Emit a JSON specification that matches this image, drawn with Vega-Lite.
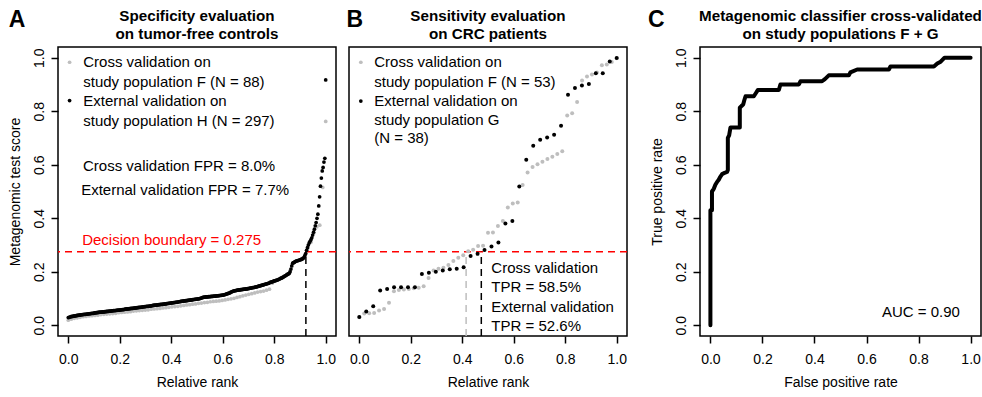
{
"$schema": "https://vega.github.io/schema/vega-lite/v6.json",
"background": "white",
"padding": {"left": 7, "top": 8, "right": 0, "bottom": 0},
"config": {
 "view": {"stroke": "black", "strokeWidth": 1.5},
 "font": "Liberation Sans",
 "axis": {"domain": false, "grid": false, "ticks": true, "tickColor": "black", "tickWidth": 1.5, "tickSize": 7,
  "labelFont": "Liberation Sans", "labelFontSize": 14, "labelColor": "black", "labelFlush": false, "labelOverlap": false,
  "titleFont": "Liberation Sans", "titleFontSize": 14, "titleFontWeight": "normal", "titleColor": "black"},
 "axisX": {"labelPadding": 9, "titlePadding": 9},
 "axisY": {"labelAngle": -90, "labelAlign": "center", "labelBaseline": "bottom", "labelPadding": 5, "titlePadding": 10},
 "text": {"font": "Liberation Sans", "fontSize": 15, "color": "black"}
},
"datasets": {
 "aF": [{"x":0,"y":0.019},{"x":0.0115,"y":0.023},{"x":0.023,"y":0.026},{"x":0.0345,"y":0.028},{"x":0.046,"y":0.03},{"x":0.0575,"y":0.032},{"x":0.069,"y":0.033},{"x":0.0805,"y":0.035},{"x":0.092,"y":0.036},{"x":0.1034,"y":0.037},{"x":0.1149,"y":0.038},{"x":0.1264,"y":0.04},{"x":0.1379,"y":0.041},{"x":0.1494,"y":0.042},{"x":0.1609,"y":0.043},{"x":0.1724,"y":0.044},{"x":0.1839,"y":0.045},{"x":0.1954,"y":0.047},{"x":0.2069,"y":0.048},{"x":0.2184,"y":0.049},{"x":0.2299,"y":0.05},{"x":0.2414,"y":0.051},{"x":0.2529,"y":0.053},{"x":0.2644,"y":0.054},{"x":0.2759,"y":0.055},{"x":0.2874,"y":0.056},{"x":0.2989,"y":0.057},{"x":0.3103,"y":0.058},{"x":0.3218,"y":0.06},{"x":0.3333,"y":0.061},{"x":0.3448,"y":0.062},{"x":0.3563,"y":0.063},{"x":0.3678,"y":0.065},{"x":0.3793,"y":0.066},{"x":0.3908,"y":0.067},{"x":0.4023,"y":0.069},{"x":0.4138,"y":0.07},{"x":0.4253,"y":0.071},{"x":0.4368,"y":0.073},{"x":0.4483,"y":0.074},{"x":0.4598,"y":0.076},{"x":0.4713,"y":0.077},{"x":0.4828,"y":0.079},{"x":0.4943,"y":0.08},{"x":0.5057,"y":0.082},{"x":0.5172,"y":0.083},{"x":0.5287,"y":0.085},{"x":0.5402,"y":0.086},{"x":0.5517,"y":0.088},{"x":0.5632,"y":0.089},{"x":0.5747,"y":0.09},{"x":0.5862,"y":0.091},{"x":0.5977,"y":0.093},{"x":0.6092,"y":0.095},{"x":0.6207,"y":0.097},{"x":0.6322,"y":0.099},{"x":0.6437,"y":0.101},{"x":0.6552,"y":0.104},{"x":0.6667,"y":0.107},{"x":0.6782,"y":0.11},{"x":0.6897,"y":0.113},{"x":0.7011,"y":0.116},{"x":0.7126,"y":0.118},{"x":0.7241,"y":0.121},{"x":0.7356,"y":0.124},{"x":0.7471,"y":0.126},{"x":0.7586,"y":0.128},{"x":0.7701,"y":0.131},{"x":0.7816,"y":0.135},{"x":0.7931,"y":0.158},{"x":0.8046,"y":0.165},{"x":0.8161,"y":0.172},{"x":0.8276,"y":0.178},{"x":0.8391,"y":0.185},{"x":0.8506,"y":0.192},{"x":0.8621,"y":0.205},{"x":0.8736,"y":0.232},{"x":0.8851,"y":0.24},{"x":0.8966,"y":0.244},{"x":0.908,"y":0.25},{"x":0.9195,"y":0.262},{"x":0.931,"y":0.29},{"x":0.9425,"y":0.31},{"x":0.954,"y":0.345},{"x":0.9655,"y":0.368},{"x":0.977,"y":0.374},{"x":0.9885,"y":0.515},{"x":1,"y":0.762}],
 "aH": [{"x":0,"y":0.029},{"x":0.0034,"y":0.03},{"x":0.0068,"y":0.031},{"x":0.0101,"y":0.032},{"x":0.0135,"y":0.033},{"x":0.0169,"y":0.033},{"x":0.0203,"y":0.034},{"x":0.0236,"y":0.035},{"x":0.027,"y":0.035},{"x":0.0304,"y":0.036},{"x":0.0338,"y":0.037},{"x":0.0372,"y":0.037},{"x":0.0405,"y":0.038},{"x":0.0439,"y":0.038},{"x":0.0473,"y":0.039},{"x":0.0507,"y":0.039},{"x":0.0541,"y":0.04},{"x":0.0574,"y":0.04},{"x":0.0608,"y":0.041},{"x":0.0642,"y":0.041},{"x":0.0676,"y":0.041},{"x":0.0709,"y":0.042},{"x":0.0743,"y":0.042},{"x":0.0777,"y":0.043},{"x":0.0811,"y":0.043},{"x":0.0845,"y":0.044},{"x":0.0878,"y":0.044},{"x":0.0912,"y":0.045},{"x":0.0946,"y":0.045},{"x":0.098,"y":0.045},{"x":0.1014,"y":0.046},{"x":0.1047,"y":0.046},{"x":0.1081,"y":0.047},{"x":0.1115,"y":0.047},{"x":0.1149,"y":0.048},{"x":0.1182,"y":0.048},{"x":0.1216,"y":0.049},
 {"x":0.125,"y":0.049},{"x":0.1284,"y":0.049},{"x":0.1318,"y":0.05},{"x":0.1351,"y":0.05},{"x":0.1385,"y":0.05},{"x":0.1419,"y":0.051},{"x":0.1453,"y":0.051},{"x":0.1486,"y":0.052},{"x":0.152,"y":0.052},{"x":0.1554,"y":0.052},{"x":0.1588,"y":0.053},{"x":0.1622,"y":0.053},{"x":0.1655,"y":0.053},{"x":0.1689,"y":0.054},{"x":0.1723,"y":0.054},{"x":0.1757,"y":0.055},{"x":0.1791,"y":0.055},{"x":0.1824,"y":0.055},{"x":0.1858,"y":0.056},{"x":0.1892,"y":0.056},{"x":0.1926,"y":0.057},{"x":0.1959,"y":0.057},{"x":0.1993,"y":0.057},{"x":0.2027,"y":0.058},{"x":0.2061,"y":0.058},{"x":0.2095,"y":0.059},{"x":0.2128,"y":0.059},{"x":0.2162,"y":0.059},{"x":0.2196,"y":0.06},{"x":0.223,"y":0.06},{"x":0.2264,"y":0.061},{"x":0.2297,"y":0.061},{"x":0.2331,"y":0.061},{"x":0.2365,"y":0.062},{"x":0.2399,"y":0.062},{"x":0.2432,"y":0.063},{"x":0.2466,"y":0.063},
 {"x":0.25,"y":0.063},{"x":0.2534,"y":0.064},{"x":0.2568,"y":0.064},{"x":0.2601,"y":0.065},{"x":0.2635,"y":0.065},{"x":0.2669,"y":0.066},{"x":0.2703,"y":0.066},{"x":0.2736,"y":0.067},{"x":0.277,"y":0.067},{"x":0.2804,"y":0.067},{"x":0.2838,"y":0.068},{"x":0.2872,"y":0.068},{"x":0.2905,"y":0.069},{"x":0.2939,"y":0.069},{"x":0.2973,"y":0.07},{"x":0.3007,"y":0.07},{"x":0.3041,"y":0.071},{"x":0.3074,"y":0.071},{"x":0.3108,"y":0.071},{"x":0.3142,"y":0.072},{"x":0.3176,"y":0.072},{"x":0.3209,"y":0.073},{"x":0.3243,"y":0.073},{"x":0.3277,"y":0.074},{"x":0.3311,"y":0.074},{"x":0.3345,"y":0.075},{"x":0.3378,"y":0.075},{"x":0.3412,"y":0.075},{"x":0.3446,"y":0.076},{"x":0.348,"y":0.076},{"x":0.3514,"y":0.077},{"x":0.3547,"y":0.077},{"x":0.3581,"y":0.078},{"x":0.3615,"y":0.078},{"x":0.3649,"y":0.078},{"x":0.3682,"y":0.079},{"x":0.3716,"y":0.079},
 {"x":0.375,"y":0.08},{"x":0.3784,"y":0.08},{"x":0.3818,"y":0.081},{"x":0.3851,"y":0.081},{"x":0.3885,"y":0.082},{"x":0.3919,"y":0.082},{"x":0.3953,"y":0.083},{"x":0.3986,"y":0.083},{"x":0.402,"y":0.084},{"x":0.4054,"y":0.084},{"x":0.4088,"y":0.085},{"x":0.4122,"y":0.085},{"x":0.4155,"y":0.086},{"x":0.4189,"y":0.086},{"x":0.4223,"y":0.087},{"x":0.4257,"y":0.087},{"x":0.4291,"y":0.088},{"x":0.4324,"y":0.088},{"x":0.4358,"y":0.089},{"x":0.4392,"y":0.089},{"x":0.4426,"y":0.09},{"x":0.4459,"y":0.09},{"x":0.4493,"y":0.091},{"x":0.4527,"y":0.091},{"x":0.4561,"y":0.092},{"x":0.4595,"y":0.092},{"x":0.4628,"y":0.093},{"x":0.4662,"y":0.093},{"x":0.4696,"y":0.094},{"x":0.473,"y":0.094},{"x":0.4764,"y":0.095},{"x":0.4797,"y":0.095},{"x":0.4831,"y":0.096},{"x":0.4865,"y":0.096},{"x":0.4899,"y":0.097},{"x":0.4932,"y":0.097},{"x":0.4966,"y":0.098},
 {"x":0.5,"y":0.098},{"x":0.5034,"y":0.099},{"x":0.5068,"y":0.099},{"x":0.5101,"y":0.1},{"x":0.5135,"y":0.101},{"x":0.5169,"y":0.102},{"x":0.5203,"y":0.103},{"x":0.5236,"y":0.104},{"x":0.527,"y":0.105},{"x":0.5304,"y":0.105},{"x":0.5338,"y":0.106},{"x":0.5372,"y":0.106},{"x":0.5405,"y":0.106},{"x":0.5439,"y":0.107},{"x":0.5473,"y":0.107},{"x":0.5507,"y":0.107},{"x":0.5541,"y":0.108},{"x":0.5574,"y":0.108},{"x":0.5608,"y":0.108},{"x":0.5642,"y":0.109},{"x":0.5676,"y":0.109},{"x":0.5709,"y":0.109},{"x":0.5743,"y":0.11},{"x":0.5777,"y":0.11},{"x":0.5811,"y":0.11},{"x":0.5845,"y":0.111},{"x":0.5878,"y":0.111},{"x":0.5912,"y":0.112},{"x":0.5946,"y":0.112},{"x":0.598,"y":0.113},{"x":0.6014,"y":0.113},{"x":0.6047,"y":0.114},{"x":0.6081,"y":0.115},{"x":0.6115,"y":0.116},{"x":0.6149,"y":0.117},{"x":0.6182,"y":0.118},{"x":0.6216,"y":0.119},
 {"x":0.625,"y":0.12},{"x":0.6284,"y":0.122},{"x":0.6318,"y":0.124},{"x":0.6351,"y":0.125},{"x":0.6385,"y":0.127},{"x":0.6419,"y":0.128},{"x":0.6453,"y":0.129},{"x":0.6486,"y":0.13},{"x":0.652,"y":0.13},{"x":0.6554,"y":0.131},{"x":0.6588,"y":0.131},{"x":0.6622,"y":0.132},{"x":0.6655,"y":0.132},{"x":0.6689,"y":0.133},{"x":0.6723,"y":0.133},{"x":0.6757,"y":0.134},{"x":0.6791,"y":0.134},{"x":0.6824,"y":0.135},{"x":0.6858,"y":0.135},{"x":0.6892,"y":0.136},{"x":0.6926,"y":0.136},{"x":0.6959,"y":0.137},{"x":0.6993,"y":0.137},{"x":0.7027,"y":0.138},{"x":0.7061,"y":0.139},{"x":0.7095,"y":0.139},{"x":0.7128,"y":0.14},{"x":0.7162,"y":0.141},{"x":0.7196,"y":0.141},{"x":0.723,"y":0.142},{"x":0.7264,"y":0.143},{"x":0.7297,"y":0.144},{"x":0.7331,"y":0.144},{"x":0.7365,"y":0.145},{"x":0.7399,"y":0.146},{"x":0.7432,"y":0.147},{"x":0.7466,"y":0.148},
 {"x":0.75,"y":0.149},{"x":0.7534,"y":0.15},{"x":0.7568,"y":0.151},{"x":0.7601,"y":0.152},{"x":0.7635,"y":0.153},{"x":0.7669,"y":0.154},{"x":0.7703,"y":0.155},{"x":0.7736,"y":0.156},{"x":0.777,"y":0.157},{"x":0.7804,"y":0.158},{"x":0.7838,"y":0.16},{"x":0.7872,"y":0.161},{"x":0.7905,"y":0.162},{"x":0.7939,"y":0.163},{"x":0.7973,"y":0.165},{"x":0.8007,"y":0.166},{"x":0.8041,"y":0.167},{"x":0.8074,"y":0.168},{"x":0.8108,"y":0.169},{"x":0.8142,"y":0.17},{"x":0.8176,"y":0.172},{"x":0.8209,"y":0.173},{"x":0.8243,"y":0.175},{"x":0.8277,"y":0.176},{"x":0.8311,"y":0.178},{"x":0.8345,"y":0.18},{"x":0.8378,"y":0.182},{"x":0.8412,"y":0.184},{"x":0.8446,"y":0.186},{"x":0.848,"y":0.188},{"x":0.8514,"y":0.19},{"x":0.8547,"y":0.192},{"x":0.8581,"y":0.194},{"x":0.8615,"y":0.2},{"x":0.8649,"y":0.21},{"x":0.8682,"y":0.222},{"x":0.8716,"y":0.232},
 {"x":0.875,"y":0.234},{"x":0.8784,"y":0.236},{"x":0.8818,"y":0.238},{"x":0.8851,"y":0.24},{"x":0.8885,"y":0.241},{"x":0.8919,"y":0.242},{"x":0.8953,"y":0.243},{"x":0.8986,"y":0.244},{"x":0.902,"y":0.245},{"x":0.9054,"y":0.246},{"x":0.9088,"y":0.248},{"x":0.9122,"y":0.25},{"x":0.9155,"y":0.254},{"x":0.9189,"y":0.26},{"x":0.9223,"y":0.268},{"x":0.9257,"y":0.28},{"x":0.9291,"y":0.29},{"x":0.9324,"y":0.3},{"x":0.9358,"y":0.308},{"x":0.9392,"y":0.314},{"x":0.9426,"y":0.32},{"x":0.9459,"y":0.327},{"x":0.9493,"y":0.337},{"x":0.9527,"y":0.348},{"x":0.9561,"y":0.359},{"x":0.9595,"y":0.372},{"x":0.9628,"y":0.384},{"x":0.9662,"y":0.4},{"x":0.9696,"y":0.415},{"x":0.973,"y":0.446},{"x":0.9764,"y":0.48},{"x":0.9797,"y":0.52},{"x":0.9831,"y":0.55},{"x":0.9865,"y":0.577},{"x":0.9899,"y":0.59},{"x":0.9932,"y":0.61},{"x":0.9966,"y":0.624},{"x":1,"y":0.917}],
 "bF": [{"x":0,"y":0.03},{"x":0.0192,"y":0.044},{"x":0.0385,"y":0.045},{"x":0.0577,"y":0.046},{"x":0.0769,"y":0.055},{"x":0.0962,"y":0.061},{"x":0.1154,"y":0.084},{"x":0.1346,"y":0.127},{"x":0.1538,"y":0.132},{"x":0.1731,"y":0.134},{"x":0.1923,"y":0.136},{"x":0.2115,"y":0.138},{"x":0.2308,"y":0.14},{"x":0.25,"y":0.146},{"x":0.2692,"y":0.177},{"x":0.2885,"y":0.205},{"x":0.3077,"y":0.211},{"x":0.3269,"y":0.215},{"x":0.3462,"y":0.225},{"x":0.3654,"y":0.24},{"x":0.3846,"y":0.252},{"x":0.4038,"y":0.262},{"x":0.4231,"y":0.277},{"x":0.4423,"y":0.282},{"x":0.4615,"y":0.296},{"x":0.4808,"y":0.297},{"x":0.5,"y":0.346},{"x":0.5192,"y":0.347},{"x":0.5385,"y":0.371},{"x":0.5577,"y":0.39},{"x":0.5769,"y":0.44},{"x":0.5962,"y":0.455},{"x":0.6154,"y":0.459},{"x":0.6346,"y":0.524},{"x":0.6538,"y":0.571},{"x":0.6731,"y":0.592},{"x":0.6923,"y":0.602},{"x":0.7115,"y":0.611},{"x":0.7308,"y":0.621},{"x":0.75,"y":0.63},{"x":0.7692,"y":0.64},{"x":0.7885,"y":0.65},{"x":0.8077,"y":0.784},{"x":0.8269,"y":0.792},{"x":0.8462,"y":0.834},{"x":0.8654,"y":0.915},{"x":0.8846,"y":0.93},{"x":0.9038,"y":0.937},{"x":0.9231,"y":0.945},{"x":0.9423,"y":0.972},{"x":0.9615,"y":0.975},{"x":0.9808,"y":0.984},{"x":1,"y":0.998}],
 "bG": [{"x":0,"y":0.031},{"x":0.027,"y":0.052},{"x":0.0541,"y":0.071},{"x":0.0811,"y":0.13},{"x":0.1081,"y":0.136},{"x":0.1351,"y":0.142},{"x":0.1622,"y":0.142},{"x":0.1892,"y":0.142},{"x":0.2162,"y":0.142},{"x":0.2432,"y":0.192},{"x":0.2703,"y":0.196},{"x":0.2973,"y":0.2},{"x":0.3243,"y":0.205},{"x":0.3514,"y":0.209},{"x":0.3784,"y":0.211},{"x":0.4054,"y":0.217},{"x":0.4324,"y":0.259},{"x":0.4595,"y":0.267},{"x":0.4865,"y":0.281},{"x":0.5135,"y":0.294},{"x":0.5405,"y":0.309},{"x":0.5676,"y":0.38},{"x":0.5946,"y":0.39},{"x":0.6216,"y":0.519},{"x":0.6486,"y":0.619},{"x":0.6757,"y":0.671},{"x":0.7027,"y":0.693},{"x":0.7297,"y":0.702},{"x":0.7568,"y":0.712},{"x":0.7838,"y":0.746},{"x":0.8108,"y":0.862},{"x":0.8378,"y":0.887},{"x":0.8649,"y":0.896},{"x":0.8919,"y":0.902},{"x":0.9189,"y":0.942},{"x":0.9459,"y":0.942},{"x":0.973,"y":0.986},{"x":1,"y":0.999}],
 "roc": [{"k":0,"x":0,"y":0},{"k":1,"x":0,"y":0.43},{"k":2,"x":0.006,"y":0.43},{"k":3,"x":0.006,"y":0.5},{"k":4,"x":0.013,"y":0.51},{"k":5,"x":0.019,"y":0.525},{"k":6,"x":0.025,"y":0.535},{"k":7,"x":0.032,"y":0.544},{"k":8,"x":0.038,"y":0.555},{"k":9,"x":0.045,"y":0.565},{"k":10,"x":0.055,"y":0.57},{"k":11,"x":0.064,"y":0.573},{"k":12,"x":0.067,"y":0.58},{"k":13,"x":0.067,"y":0.7},{"k":14,"x":0.072,"y":0.71},{"k":15,"x":0.077,"y":0.739},{"k":16,"x":0.113,"y":0.739},{"k":17,"x":0.113,"y":0.813},{"k":18,"x":0.12,"y":0.82},{"k":19,"x":0.126,"y":0.825},{"k":20,"x":0.13,"y":0.84},{"k":21,"x":0.135,"y":0.856},{"k":22,"x":0.167,"y":0.856},{"k":23,"x":0.175,"y":0.868},{"k":24,"x":0.182,"y":0.879},{"k":25,"x":0.263,"y":0.879},{"k":26,"x":0.269,"y":0.9},{"k":27,"x":0.34,"y":0.9},{"k":28,"x":0.346,"y":0.912},{"k":29,"x":0.429,"y":0.912},{"k":30,"x":0.44,"y":0.92},{"k":31,"x":0.455,"y":0.934},{"k":32,"x":0.532,"y":0.934},{"k":33,"x":0.538,"y":0.945},{"k":34,"x":0.564,"y":0.956},{"k":35,"x":0.686,"y":0.956},{"k":36,"x":0.692,"y":0.967},{"k":37,"x":0.859,"y":0.967},{"k":38,"x":0.872,"y":0.978},{"k":39,"x":0.885,"y":0.985},{"k":40,"x":0.9,"y":1},{"k":41,"x":1,"y":1}]
},
"spacing": 18,
"hconcat": [
 {"spacing": 7, "hconcat": [
  {"width": 278, "height": 289,
   "layer": [
    {"data": {"values": [{"y": 0.275}]}, "mark": {"type": "rule", "color": "#ff0000", "strokeWidth": 1.5, "strokeDash": [7, 5]},
     "encoding": {"y": {"field": "y", "type": "quantitative", "scale": {"domain": [-0.04, 1.04], "nice": false, "zero": false}, "axis": {"title": "Metagenomic test score", "values": [0, 0.2, 0.4, 0.6, 0.8, 1], "format": ".1f"}}}},
    {"data": {"values": [{"x": 0.923, "y": -0.04, "y2": 0.275}]}, "mark": {"type": "rule", "color": "black", "strokeWidth": 1.5, "strokeDash": [7, 5]},
     "encoding": {"x": {"field": "x", "type": "quantitative", "scale": {"domain": [-0.04, 1.04], "nice": false, "zero": false}, "axis": {"title": "Relative rank", "values": [0, 0.2, 0.4, 0.6, 0.8, 1], "format": ".1f"}},
      "y": {"field": "y", "type": "quantitative", "scale": {"domain": [-0.04, 1.04], "nice": false, "zero": false}, "axis": {"title": "Metagenomic test score", "values": [0, 0.2, 0.4, 0.6, 0.8, 1], "format": ".1f"}}, "y2": {"field": "y2"}}},
    {"data": {"name": "aF"}, "mark": {"type": "circle", "size": 14, "color": "#bebebe", "opacity": 1},
     "encoding": {"x": {"field": "x", "type": "quantitative", "scale": {"domain": [-0.04, 1.04], "nice": false, "zero": false}, "axis": {"title": "Relative rank", "values": [0, 0.2, 0.4, 0.6, 0.8, 1], "format": ".1f"}},
      "y": {"field": "y", "type": "quantitative", "scale": {"domain": [-0.04, 1.04], "nice": false, "zero": false}, "axis": {"title": "Metagenomic test score", "values": [0, 0.2, 0.4, 0.6, 0.8, 1], "format": ".1f"}}}},
    {"data": {"name": "aH"}, "mark": {"type": "circle", "size": 14, "color": "black", "opacity": 1},
     "encoding": {"x": {"field": "x", "type": "quantitative", "scale": {"domain": [-0.04, 1.04], "nice": false, "zero": false}, "axis": {"title": "Relative rank", "values": [0, 0.2, 0.4, 0.6, 0.8, 1], "format": ".1f"}},
      "y": {"field": "y", "type": "quantitative", "scale": {"domain": [-0.04, 1.04], "nice": false, "zero": false}, "axis": {"title": "Metagenomic test score", "values": [0, 0.2, 0.4, 0.6, 0.8, 1], "format": ".1f"}}}},
    {"data": {"values": [{"x": 0.005, "y": 0.983}]}, "mark": {"type": "circle", "size": 14, "color": "#bebebe", "opacity": 1},
     "encoding": {"x": {"field": "x", "type": "quantitative"}, "y": {"field": "y", "type": "quantitative"}}},
    {"data": {"values": [{"x": 0.005, "y": 0.84}]}, "mark": {"type": "circle", "size": 14, "color": "black", "opacity": 1},
     "encoding": {"x": {"field": "x", "type": "quantitative"}, "y": {"field": "y", "type": "quantitative"}}},
    {"data": {"values": [{"x": 0.058, "y": 0.983, "t": "Cross validation on"}, {"x": 0.058, "y": 0.908, "t": "study population F (N = 88)"}, {"x": 0.058, "y": 0.84, "t": "External validation on"}, {"x": 0.058, "y": 0.765, "t": "study population H (N = 297)"}, {"x": 0.057, "y": 0.594, "t": "Cross validation FPR = 8.0%"}, {"x": 0.05, "y": 0.506, "t": "External validation FPR = 7.7%"}]},
     "mark": {"type": "text", "align": "left", "baseline": "middle", "fontSize": 15},
     "encoding": {"x": {"field": "x", "type": "quantitative"}, "y": {"field": "y", "type": "quantitative"}, "text": {"field": "t"}}},
    {"data": {"values": [{"x": 0.054, "y": 0.318, "t": "Decision boundary = 0.275"}]},
     "mark": {"type": "text", "align": "left", "baseline": "middle", "fontSize": 15, "color": "#ff0000"},
     "encoding": {"x": {"field": "x", "type": "quantitative"}, "y": {"field": "y", "type": "quantitative"}, "text": {"field": "t"}}},
    {"data": {"values": [{"x": 0.5, "y": 1.156, "t": "Specificity evaluation"}, {"x": 0.5, "y": 1.09, "t": "on tumor-free controls"}]},
     "mark": {"type": "text", "align": "center", "baseline": "middle", "fontSize": 15.2, "fontWeight": "bold"},
     "encoding": {"x": {"field": "x", "type": "quantitative"}, "y": {"field": "y", "type": "quantitative"}, "text": {"field": "t"}}},
    {"data": {"values": [{"x": -0.231, "y": 1.14, "t": "A"}]},
     "mark": {"type": "text", "align": "left", "baseline": "middle", "fontSize": 23, "fontWeight": "bold"},
     "encoding": {"x": {"field": "x", "type": "quantitative"}, "y": {"field": "y", "type": "quantitative"}, "text": {"field": "t"}}}
   ]},
  {"width": 278, "height": 289,
   "layer": [
    {"data": {"values": [{"y": 0.275}]}, "mark": {"type": "rule", "color": "#ff0000", "strokeWidth": 1.5, "strokeDash": [7, 5]},
     "encoding": {"y": {"field": "y", "type": "quantitative", "scale": {"domain": [-0.04, 1.04], "nice": false, "zero": false}, "axis": null}}},
    {"data": {"values": [{"x": 0.415, "y": -0.04, "y2": 0.275}]}, "mark": {"type": "rule", "color": "#bebebe", "strokeWidth": 1.5, "strokeDash": [7, 5]},
     "encoding": {"x": {"field": "x", "type": "quantitative", "scale": {"domain": [-0.04, 1.04], "nice": false, "zero": false}, "axis": {"title": "Relative rank", "values": [0, 0.2, 0.4, 0.6, 0.8, 1], "format": ".1f"}},
      "y": {"field": "y", "type": "quantitative", "scale": {"domain": [-0.04, 1.04], "nice": false, "zero": false}, "axis": null}, "y2": {"field": "y2"}}},
    {"data": {"values": [{"x": 0.474, "y": -0.04, "y2": 0.275}]}, "mark": {"type": "rule", "color": "black", "strokeWidth": 1.5, "strokeDash": [7, 5]},
     "encoding": {"x": {"field": "x", "type": "quantitative", "scale": {"domain": [-0.04, 1.04], "nice": false, "zero": false}, "axis": {"title": "Relative rank", "values": [0, 0.2, 0.4, 0.6, 0.8, 1], "format": ".1f"}},
      "y": {"field": "y", "type": "quantitative", "scale": {"domain": [-0.04, 1.04], "nice": false, "zero": false}, "axis": null}, "y2": {"field": "y2"}}},
    {"data": {"name": "bF"}, "mark": {"type": "circle", "size": 16, "color": "#bebebe", "opacity": 1},
     "encoding": {"x": {"field": "x", "type": "quantitative", "scale": {"domain": [-0.04, 1.04], "nice": false, "zero": false}, "axis": {"title": "Relative rank", "values": [0, 0.2, 0.4, 0.6, 0.8, 1], "format": ".1f"}},
      "y": {"field": "y", "type": "quantitative", "scale": {"domain": [-0.04, 1.04], "nice": false, "zero": false}, "axis": null}}},
    {"data": {"name": "bG"}, "mark": {"type": "circle", "size": 16, "color": "black", "opacity": 1},
     "encoding": {"x": {"field": "x", "type": "quantitative", "scale": {"domain": [-0.04, 1.04], "nice": false, "zero": false}, "axis": {"title": "Relative rank", "values": [0, 0.2, 0.4, 0.6, 0.8, 1], "format": ".1f"}},
      "y": {"field": "y", "type": "quantitative", "scale": {"domain": [-0.04, 1.04], "nice": false, "zero": false}, "axis": null}}},
    {"data": {"values": [{"x": 0.006, "y": 0.983}]}, "mark": {"type": "circle", "size": 14, "color": "#bebebe", "opacity": 1},
     "encoding": {"x": {"field": "x", "type": "quantitative"}, "y": {"field": "y", "type": "quantitative", "axis": null}}},
    {"data": {"values": [{"x": 0.006, "y": 0.838}]}, "mark": {"type": "circle", "size": 14, "color": "black", "opacity": 1},
     "encoding": {"x": {"field": "x", "type": "quantitative"}, "y": {"field": "y", "type": "quantitative", "axis": null}}},
    {"data": {"values": [{"x": 0.058, "y": 0.983, "t": "Cross validation on"}, {"x": 0.058, "y": 0.908, "t": "study population F (N = 53)"}, {"x": 0.058, "y": 0.838, "t": "External validation on"}, {"x": 0.058, "y": 0.768, "t": "study population G"}, {"x": 0.058, "y": 0.7, "t": "(N = 38)"}, {"x": 0.513, "y": 0.213, "t": "Cross validation"}, {"x": 0.513, "y": 0.142, "t": "TPR = 58.5%"}, {"x": 0.513, "y": 0.0675, "t": "External validation"}, {"x": 0.513, "y": -0.001, "t": "TPR = 52.6%"}]},
     "mark": {"type": "text", "align": "left", "baseline": "middle", "fontSize": 15},
     "encoding": {"x": {"field": "x", "type": "quantitative"}, "y": {"field": "y", "type": "quantitative", "axis": null}, "text": {"field": "t"}}},
    {"data": {"values": [{"x": 0.5, "y": 1.156, "t": "Sensitivity evaluation"}, {"x": 0.5, "y": 1.09, "t": "on CRC patients"}]},
     "mark": {"type": "text", "align": "center", "baseline": "middle", "fontSize": 15.2, "fontWeight": "bold"},
     "encoding": {"x": {"field": "x", "type": "quantitative"}, "y": {"field": "y", "type": "quantitative", "axis": null}, "text": {"field": "t"}}},
    {"data": {"values": [{"x": -0.05, "y": 1.14, "t": "B"}]},
     "mark": {"type": "text", "align": "left", "baseline": "middle", "fontSize": 23, "fontWeight": "bold"},
     "encoding": {"x": {"field": "x", "type": "quantitative"}, "y": {"field": "y", "type": "quantitative", "axis": null}, "text": {"field": "t"}}}
   ]}
 ]},
 {"width": 281, "height": 289,
  "layer": [
   {"data": {"name": "roc"}, "mark": {"type": "line", "color": "black", "strokeWidth": 4, "strokeCap": "round", "strokeJoin": "round"},
    "encoding": {"x": {"field": "x", "type": "quantitative", "scale": {"domain": [-0.04, 1.04], "nice": false, "zero": false}, "axis": {"title": "False positive rate", "values": [0, 0.2, 0.4, 0.6, 0.8, 1], "format": ".1f"}},
     "y": {"field": "y", "type": "quantitative", "scale": {"domain": [-0.04, 1.04], "nice": false, "zero": false}, "axis": {"title": "True positive rate", "values": [0, 0.2, 0.4, 0.6, 0.8, 1], "format": ".1f"}},
     "order": {"field": "k", "type": "quantitative"}}},
   {"data": {"values": [{"x": 0.959, "y": 0.0485, "t": "AUC = 0.90"}]},
    "mark": {"type": "text", "align": "right", "baseline": "middle", "fontSize": 15},
    "encoding": {"x": {"field": "x", "type": "quantitative"}, "y": {"field": "y", "type": "quantitative"}, "text": {"field": "t"}}},
   {"data": {"values": [{"x": 0.5, "y": 1.156, "t": "Metagenomic classifier cross-validated"}, {"x": 0.5, "y": 1.09, "t": "on study populations F + G"}]},
    "mark": {"type": "text", "align": "center", "baseline": "middle", "fontSize": 15.2, "fontWeight": "bold"},
    "encoding": {"x": {"field": "x", "type": "quantitative"}, "y": {"field": "y", "type": "quantitative"}, "text": {"field": "t"}}},
   {"data": {"values": [{"x": -0.24, "y": 1.14, "t": "C"}]},
    "mark": {"type": "text", "align": "left", "baseline": "middle", "fontSize": 23, "fontWeight": "bold"},
    "encoding": {"x": {"field": "x", "type": "quantitative"}, "y": {"field": "y", "type": "quantitative"}, "text": {"field": "t"}}}
  ]}
]
}
